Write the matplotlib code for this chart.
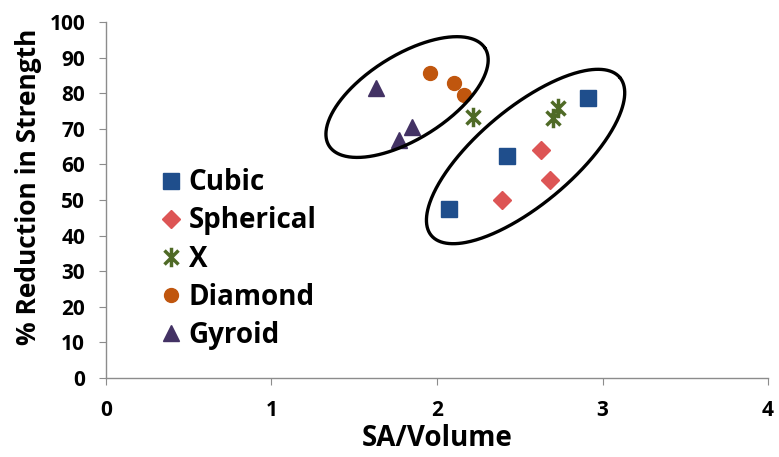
import numpy as np
import matplotlib
matplotlib.use("Agg")
import matplotlib.pyplot as plt
from matplotlib.path import Path

plt.rcParams['font.family'] = ['Open Sans', 'DejaVu Sans']
plt.rcParams['font.weight'] = 'bold'

# Data
cubic_x = [2.07, 2.42, 2.91]
cubic_y = [47.5, 62.4, 78.7]
spherical_x = [2.39, 2.63, 2.68]
spherical_y = [50.0, 64.0, 55.6]
x_x = [2.22, 2.73, 2.70]
x_y = [73.3, 75.8, 73.0]
diamond_x = [1.96, 2.10, 2.16]
diamond_y = [85.7, 82.9, 79.5]
gyroid_x = [1.63, 1.85, 1.77]
gyroid_y = [81.5, 70.5, 66.9]

xticks = [0, 1, 2, 3, 4]
yticks = list(range(0, 101, 10))

fig = plt.figure(figsize=(7.79, 4.57), dpi=100)
ax = fig.add_axes([0.136, 0.173, 0.850, 0.779])
ax.set_xlim(0, 4)
ax.set_ylim(0, 100)

# custom star marker: vertical line plus X
d = 0.72
verts = [(0, -1), (0, 1), (-d, -d), (d, d), (-d, d), (d, -d)]
codes = [Path.MOVETO, Path.LINETO] * 3
star = Path(verts, codes)

c_cubic = '#1f4e8c'
c_sph = '#dd5555'
c_x = '#4f6a26'
c_dia = '#c0560e'
c_gyr = '#433264'

ax.plot(cubic_x, cubic_y, ls='none', marker='s', ms=11.5, color=c_cubic, label='Cubic', zorder=3)
ax.plot(spherical_x, spherical_y, ls='none', marker='D', ms=9.5, color=c_sph, label='Spherical', zorder=3)
ax.plot(x_x, x_y, ls='none', marker=star, ms=14, color=c_x, mew=2.5, label='X', zorder=3)
ax.plot(diamond_x, diamond_y, ls='none', marker='o', ms=10, color=c_dia, label='Diamond', zorder=3)
ax.plot(gyroid_x, gyroid_y, ls='none', marker='^', ms=12, color=c_gyr, label='Gyroid', zorder=3)

# ellipses drawn in pixel-proportional units
sx = ax.bbox.width / 4.0
sy = ax.bbox.height / 100.0
t = np.linspace(0, 2 * np.pi, 400)
def ellipse(cx, cy, a, b, theta_deg):
    th = np.radians(theta_deg)
    dx = a * np.cos(t) * np.cos(th) - b * np.sin(t) * np.sin(th)
    dy = a * np.cos(t) * np.sin(th) + b * np.sin(t) * np.cos(th)
    ax.plot(cx + dx / sx, cy + dy / sy, color='black', lw=2.4, zorder=4, solid_capstyle='round')

ellipse(1.819, 78.9, 92, 42, 32)
ellipse(2.535, 62.2, 123, 48, 40)

for s in ['top', 'right']:
    ax.spines[s].set_visible(False)
for s in ['left', 'bottom']:
    ax.spines[s].set_color('#8c8c8c')
    ax.spines[s].set_linewidth(1.0)
ax.tick_params(axis='both', direction='out', length=5, color='#8c8c8c', labelsize=15)
ax.set_xticks(xticks)
ax.set_yticks(yticks)
ax.tick_params(axis='x', pad=11)
ax.tick_params(axis='y', pad=10)
for lab in ax.get_xticklabels() + ax.get_yticklabels():
    lab.set_fontweight('bold')

ax.set_xlabel('SA/Volume', fontsize=20, fontweight='bold')
ax.set_ylabel('% Reduction in Strength', fontsize=19, fontweight='bold')
ax.xaxis.set_label_coords(0.5, -0.13)
ax.yaxis.set_label_coords(-0.097, 0.537)

leg = ax.legend(loc='upper left', bbox_to_anchor=(0.06, 0.62), frameon=False,
                prop={'size': 20, 'weight': 'bold'}, handletextpad=0.15,
                labelspacing=0.33, handlelength=1.0, borderaxespad=0)

fig.savefig('out.png', dpi=100)
